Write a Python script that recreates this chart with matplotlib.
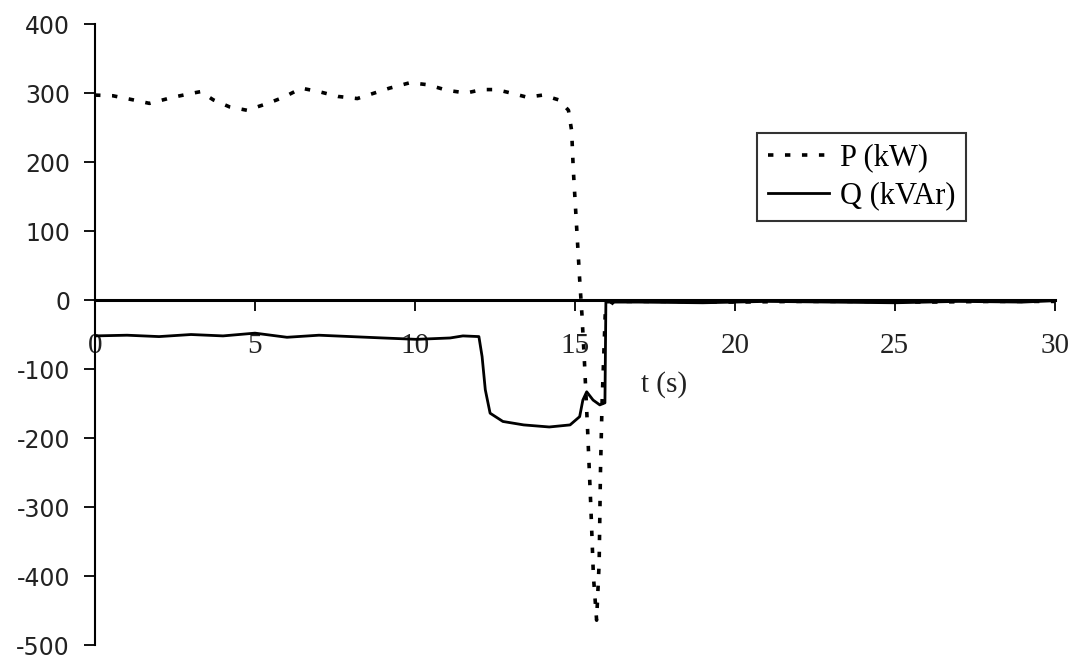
import numpy as np
import matplotlib
matplotlib.use("Agg")
import matplotlib.pyplot as plt

plt.rcParams['axes.unicode_minus'] = False

# P (kW)
t_p = [0.0, 0.56, 1.2, 1.7, 2.45, 3.07, 3.3, 3.7, 4.2, 4.75, 5.4, 5.9, 6.45, 7.0,
       7.6, 8.2, 8.6, 9.2, 9.85, 10.4, 11.0, 11.6, 12.1, 12.55, 13.0, 13.5, 14.0,
       14.5, 14.8, 14.9, 14.95, 15.05, 15.15, 15.22, 15.3, 15.4, 15.5, 15.58,
       15.68, 15.76, 15.8, 15.85, 15.95, 16.2, 18, 20, 22, 24, 26, 28, 30]
p_vals = [297, 296, 290, 285, 294, 300, 302, 290, 280, 275, 285, 294, 307, 302,
          295, 292, 298, 307, 315, 312, 304, 300, 305, 305, 300, 294, 297,
          290, 275, 245, 190, 110, 30, -20, -90, -190, -300, -400,
          -464, -380, -250, -150, -20, -2, -2, -3, -2, -2, -3, -2, -2]

# Q (kVAr)
t_q = [0.0, 1, 2, 3, 4, 5, 6, 7, 8, 9, 10.05, 11.1, 11.5, 12.0, 12.1, 12.2,
       12.35, 12.75, 13.4, 14.2, 14.85, 15.15, 15.25, 15.37, 15.57, 15.78, 15.94,
       15.97, 17, 19, 21, 23, 25, 27, 29, 30]
q_vals = [-52, -51, -53, -50, -52, -48, -54, -51, -53, -55, -57, -55, -52, -53,
          -82, -130, -164, -176, -181, -184, -181, -169, -145, -133, -145, -152, -149,
          -3, -3, -4, -2, -3, -4, -2, -3, -1]

y_ticks = [-500, -400, -300, -200, -100, 0, 100, 200, 300, 400]
x_ticks = [0, 5, 10, 15, 20, 25, 30]

fig = plt.figure(figsize=(10.74, 6.6), dpi=100)
ax = fig.add_axes([0.0885, 0.0227, 0.8935, 0.9409])

ax.plot(t_p, p_vals, color='black', lw=2.6, linestyle=(0, (1.5, 3.2)), label='P (kW)')
ax.plot(t_q, q_vals, color='black', lw=2.0, label='Q (kVAr)')

ax.set_xlim(0, 30)
ax.set_ylim(-500, 400)
ax.set_xticks(x_ticks)
ax.set_yticks(y_ticks)

ax.spines['top'].set_visible(False)
ax.spines['right'].set_visible(False)
ax.spines['bottom'].set_position(('data', 0))
ax.spines['bottom'].set_linewidth(2.2)
ax.spines['left'].set_linewidth(1.5)

ax.tick_params(axis='y', direction='out', length=8, width=1.3, pad=10, labelsize=17)
ax.tick_params(axis='x', direction='out', length=8, width=1.3, pad=16, labelsize=21)
for lab in ax.get_yticklabels():
    lab.set_fontfamily('DejaVu Sans')
    lab.set_color('#222222')
for lab in ax.get_xticklabels():
    lab.set_fontfamily('Liberation Serif')
    lab.set_color('#222222')

ax.text(17.8, -123, 't (s)', fontsize=21, family='Liberation Serif',
        ha='center', va='center', color='#222222')

leg = ax.legend(loc='upper left', bbox_to_anchor=(0.69, 0.825), frameon=True,
                fancybox=False, edgecolor='black', handlelength=2.0,
                handletextpad=0.35, borderpad=0.35, borderaxespad=0,
                labelspacing=0.3,
                prop={'family': 'Liberation Serif', 'size': 22})
leg.get_frame().set_linewidth(1.5)

fig.savefig('out.png', dpi=100)
